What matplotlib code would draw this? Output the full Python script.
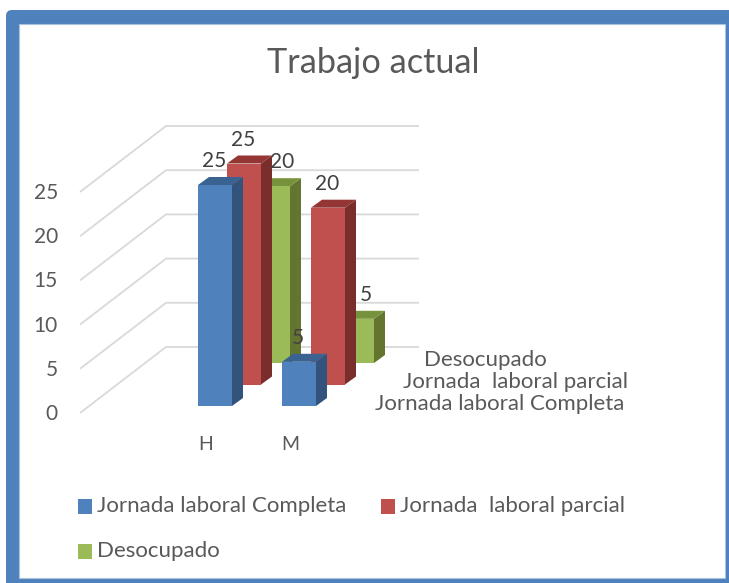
import matplotlib
matplotlib.use('Agg')
import matplotlib.pyplot as plt
from matplotlib.patches import FancyBboxPatch, Polygon, Rectangle

plt.rcParams['font.family'] = ['Lato', 'DejaVu Sans']

categories = ['H', 'M']
series_names = ['Jornada laboral Completa', 'Jornada  laboral parcial', 'Desocupado']
completa = [25, 5]
parcial = [25, 20]
desocupado = [20, 5]
y_ticks = [0, 5, 10, 15, 20, 25]

FRONT = ['#4F81BD', '#C0504D', '#9BBB59']
SIDE = ['#32547C', '#7A2E2C', '#64752F']
TOP = ['#3A6391', '#943634', '#76923C']
GRID = '#D9D9D9'
TEXT = '#595959'
BORDER = '#4F81BD'

# geometria del pseudo-3D, en pixeles
W, H = 729, 583
UNIT = 8.84
WALL_FRONT_X, WALL_BACK_X, WALL_END_X = 80, 166, 419
WALL_Y0, WALL_BACK_Y0 = 413, 347
BAR_W, DEPTH_X, DEPTH_Y = 34, 11, 8
BAR_X0, BAR_Y0 = 198, 406
STEP_CAT, STEP_SER_X, STEP_SER_Y = 84, 29, 21.5

fig = plt.figure(figsize=(W / 100, H / 100), dpi=100, facecolor='white')
ax = fig.add_axes([0, 0, 1, 1])
ax.set_xlim(0, W)
ax.set_ylim(H, 0)
ax.axis('off')

# marco azul
ax.add_patch(FancyBboxPatch((6, 10), 740, 600, boxstyle='round,pad=0,rounding_size=6',
                            facecolor=BORDER, edgecolor='none'))
ax.add_patch(Rectangle((19.5, 23.5), 706, 554.5, facecolor='white', edgecolor='#A9C2E0', linewidth=0.8))

ax.text(373, 63, 'Trabajo actual', ha='center', va='center', fontsize=24.7, color=TEXT)

# paredes
for v in y_ticks:
    front_y = WALL_Y0 - v * UNIT
    back_y = WALL_BACK_Y0 - v * UNIT
    ax.plot([WALL_FRONT_X, WALL_BACK_X, WALL_END_X], [front_y, back_y, back_y],
            color=GRID, linewidth=1.3, solid_capstyle='butt', zorder=1)
    ax.text(58, front_y + 1, str(v), ha='right', va='center', fontsize=15, color=TEXT)

# barras: de atras hacia adelante
all_series = [completa, parcial, desocupado]
label_dx = [0, 0, 10]
z = 2
for s in [2, 1, 0]:
    for c, val in enumerate(all_series[s]):
        x = BAR_X0 + c * STEP_CAT + s * STEP_SER_X
        base = BAR_Y0 - s * STEP_SER_Y
        top = base - val * UNIT
        ax.add_patch(Polygon([(x + BAR_W, top), (x + BAR_W + DEPTH_X, top - DEPTH_Y),
                              (x + BAR_W + DEPTH_X, base - DEPTH_Y), (x + BAR_W, base)],
                             facecolor=SIDE[s], edgecolor='none', zorder=z))
        ax.add_patch(Polygon([(x, top), (x + DEPTH_X, top - DEPTH_Y),
                              (x + BAR_W + DEPTH_X, top - DEPTH_Y), (x + BAR_W, top)],
                             facecolor=TOP[s], edgecolor='none', zorder=z))
        ax.add_patch(Rectangle((x, top), BAR_W, base - top, facecolor=FRONT[s], edgecolor='none', zorder=z))
        z += 1
        ax.text(x + BAR_W / 2 + label_dx[s] - 1, top - 24, str(val), ha='center', va='center',
                fontsize=15, color='#404040', zorder=20)

# etiquetas de categoria y de serie
for c, name in enumerate(categories):
    ax.text(BAR_X0 + 8 + c * STEP_CAT, 445, name, ha='center', va='center', fontsize=14, color=TEXT)

depth_label_x = [624, 628, 547]
depth_label_y = [404, 382, 360]
for name, lx, ly in zip(series_names, depth_label_x, depth_label_y):
    ax.text(lx, ly, name, ha='right', va='center', fontsize=16, color=TEXT)

# leyenda
legend_x = [78, 381, 78]
legend_y = [499, 499, 544]
for i, name in enumerate(series_names):
    ax.add_patch(Rectangle((legend_x[i], legend_y[i]), 14, 15, facecolor=FRONT[i], edgecolor='none'))
    ax.text(legend_x[i] + 19, legend_y[i] + 7, name, ha='left', va='center', fontsize=16, color=TEXT)

fig.savefig('out.png', dpi=100, facecolor='white')
plt.close(fig)
